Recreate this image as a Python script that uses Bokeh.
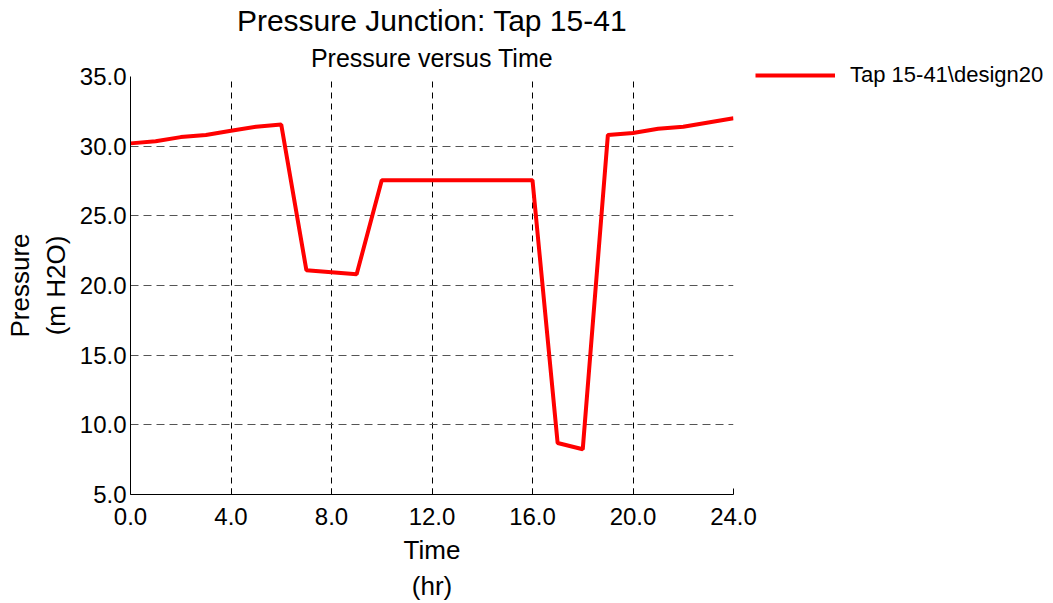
from bokeh.plotting import figure
from bokeh.models import Title, Legend, LegendItem, Range1d, FixedTicker, NumeralTickFormatter
from bokeh.embed import file_html
from bokeh.resources import INLINE

hours = list(range(25))
pressure = [30.2, 30.35, 30.65, 30.8, 31.1, 31.4, 31.55, 21.1, 20.95, 20.8,
            27.55, 27.55, 27.55, 27.55, 27.55, 27.55, 27.55, 8.7, 8.25, 30.8,
            30.95, 31.25, 31.4, 31.7, 32.0]
x_ticks = [0, 4, 8, 12, 16, 20, 24]
y_ticks = [5, 10, 15, 20, 25, 30, 35]
series_name = "Tap 15-41\\design20"
title_text = "Pressure Junction: Tap 15-41"
subtitle_text = "Pressure versus Time"
x_label = "Time\n(hr)"
y_label = "Pressure\n(m H2O)"

FONT = "Liberation Sans"

p = figure(frame_width=603, frame_height=418, output_backend="svg", toolbar_location=None,
           x_range=Range1d(0, 24), y_range=Range1d(5, 35), title=None,
           min_border_left=130, min_border_right=320, min_border_top=76, min_border_bottom=109)
p.outline_line_color = None
p.background_fill_color = "white"

r = p.line(hours, pressure, line_color="#ff0000", line_width=4)

for ax, ticks in ((p.xaxis[0], x_ticks), (p.yaxis[0], y_ticks)):
    ax.ticker = FixedTicker(ticks=ticks)
    ax.formatter = NumeralTickFormatter(format="0.0")
    ax.major_label_text_font = FONT
    ax.major_label_text_font_size = "24px"
    ax.major_label_text_color = "black"
    ax.axis_line_color = "black"
    ax.axis_line_width = 1
    ax.minor_tick_line_color = None
    ax.major_tick_line_color = "black"
    ax.axis_label_text_font = FONT
    ax.axis_label_text_font_size = "26px"
    ax.axis_label_text_font_style = "normal"
    ax.axis_label_text_color = "black"

p.xaxis.axis_label = x_label
p.yaxis.axis_label = y_label
p.xaxis.major_tick_in = 6
p.xaxis.major_tick_out = 0
p.xaxis.major_label_standoff = 13
p.xaxis.axis_label_standoff = 7
p.yaxis.major_tick_in = 0
p.yaxis.major_tick_out = 0
p.yaxis.major_label_standoff = 4
p.yaxis.axis_label_standoff = 6

p.xgrid.grid_line_color = "black"
p.xgrid.grid_line_dash = "6 5"
p.xgrid.grid_line_width = 1
p.ygrid.grid_line_color = "#555555"
p.ygrid.grid_line_dash = "8 5"
p.ygrid.grid_line_width = 1.2

p.add_layout(Title(text=subtitle_text, align="center", text_font=FONT, text_font_size="25px",
                   text_font_style="normal", text_color="black", standoff=10), "above")
p.add_layout(Title(text=title_text, align="center", text_font=FONT, text_font_size="30px",
                   text_font_style="normal", text_color="black", standoff=0), "above")

legend = Legend(items=[LegendItem(label=series_name, renderers=[r])],
                location=(22, 406), border_line_color=None, background_fill_alpha=0,
                glyph_width=80, glyph_height=20, label_text_font=FONT, label_text_font_size="22px",
                label_standoff=15, padding=0, margin=0, label_text_color="black")
p.add_layout(legend, "right")

open("out.html", "w").write(file_html(p, INLINE))
